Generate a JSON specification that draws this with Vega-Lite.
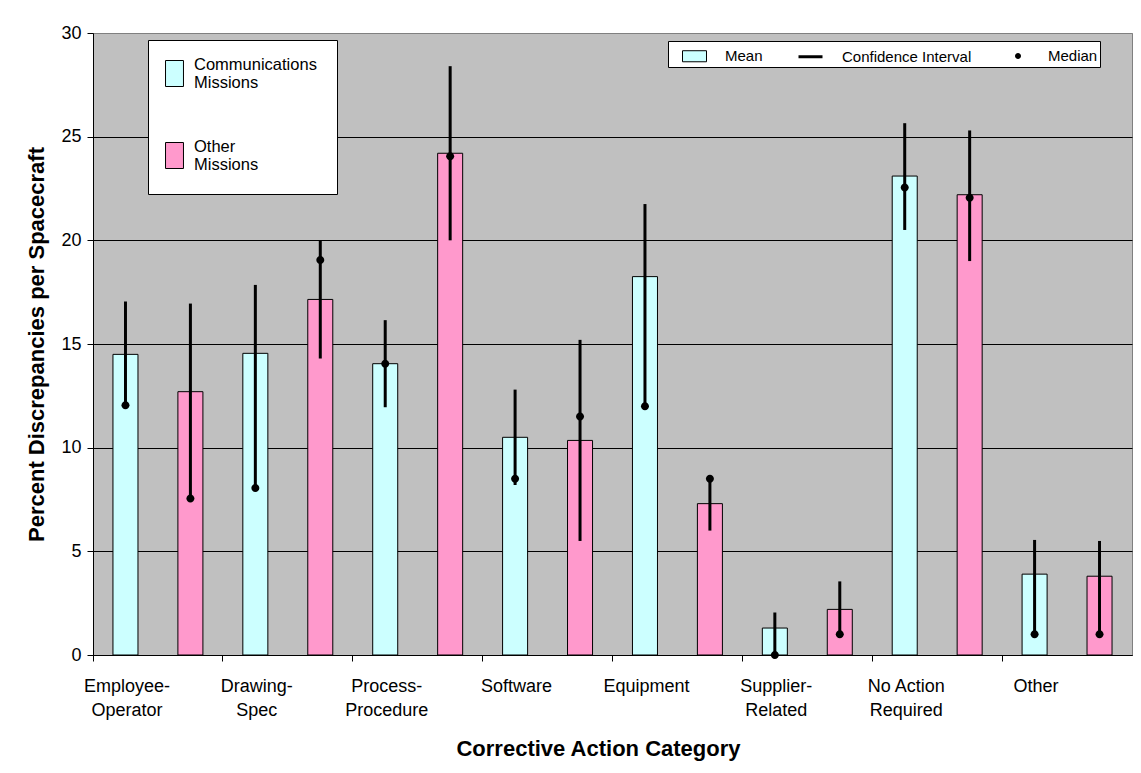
{
  "$schema": "https://vega.github.io/schema/vega-lite/v6.json",
  "width": 1039,
  "height": 622,
  "autosize": {"type": "none"},
  "padding": {"left": 93, "top": 33, "right": 9, "bottom": 118},
  "background": "white",
  "config": {
    "font": "Liberation Sans",
    "view": {"fill": "#C0C0C0", "stroke": "#808080", "strokeWidth": 1}
  },
  "data": {
    "values": [
      {"category": "Employee-Operator", "mission": "Communications Missions", "mean": 14.5, "ci_low": 12.0, "ci_high": 17.05, "median": 12.05},
      {"category": "Employee-Operator", "mission": "Other Missions", "mean": 12.7, "ci_low": 7.5, "ci_high": 16.95, "median": 7.55},
      {"category": "Drawing-Spec", "mission": "Communications Missions", "mean": 14.55, "ci_low": 8.0, "ci_high": 17.85, "median": 8.05},
      {"category": "Drawing-Spec", "mission": "Other Missions", "mean": 17.15, "ci_low": 14.3, "ci_high": 20.0, "median": 19.05},
      {"category": "Process-Procedure", "mission": "Communications Missions", "mean": 14.05, "ci_low": 11.95, "ci_high": 16.15, "median": 14.05},
      {"category": "Process-Procedure", "mission": "Other Missions", "mean": 24.2, "ci_low": 20.0, "ci_high": 28.4, "median": 24.05},
      {"category": "Software", "mission": "Communications Missions", "mean": 10.5, "ci_low": 8.2, "ci_high": 12.8, "median": 8.5},
      {"category": "Software", "mission": "Other Missions", "mean": 10.35, "ci_low": 5.5, "ci_high": 15.2, "median": 11.5},
      {"category": "Equipment", "mission": "Communications Missions", "mean": 18.25, "ci_low": 12.0, "ci_high": 21.75, "median": 12.0},
      {"category": "Equipment", "mission": "Other Missions", "mean": 7.3, "ci_low": 6.0, "ci_high": 8.5, "median": 8.5},
      {"category": "Supplier-Related", "mission": "Communications Missions", "mean": 1.3, "ci_low": 0.0, "ci_high": 2.05, "median": 0.0},
      {"category": "Supplier-Related", "mission": "Other Missions", "mean": 2.2, "ci_low": 1.0, "ci_high": 3.55, "median": 1.0},
      {"category": "No Action Required", "mission": "Communications Missions", "mean": 23.1, "ci_low": 20.5, "ci_high": 25.65, "median": 22.55},
      {"category": "No Action Required", "mission": "Other Missions", "mean": 22.2, "ci_low": 19.0, "ci_high": 25.3, "median": 22.05},
      {"category": "Other", "mission": "Communications Missions", "mean": 3.9, "ci_low": 1.0, "ci_high": 5.55, "median": 1.0},
      {"category": "Other", "mission": "Other Missions", "mean": 3.8, "ci_low": 1.0, "ci_high": 5.5, "median": 1.0}
    ]
  },
  "encoding": {
    "x": {
      "field": "category",
      "type": "nominal",
      "sort": ["Employee-Operator", "Drawing-Spec", "Process-Procedure", "Software", "Equipment", "Supplier-Related", "No Action Required", "Other"],
      "scale": {"paddingInner": 0, "paddingOuter": 0},
      "axis": {
        "title": "Corrective Action Category",
        "titleFontSize": 22,
        "titleFontWeight": "bold",
        "titleColor": "black",
        "titlePadding": 19,
        "titleX": 505,
        "titleAlign": "center",
        "bandPosition": 0,
        "labelAngle": 0,
        "labelAlign": "center",
        "labelBaseline": "top",
        "labelOffset": -31,
        "labelFontSize": 18,
        "labelColor": "black",
        "labelLineHeight": 24,
        "labelPadding": 16,
        "labelExpr": "datum.label == 'No Action Required' ? ['No Action', 'Required'] : indexof(datum.label, '-') > 0 ? [slice(datum.label, 0, indexof(datum.label, '-') + 1), slice(datum.label, indexof(datum.label, '-') + 1)] : datum.label",
        "domainColor": "black",
        "domainWidth": 1,
        "tickColor": "black",
        "tickSize": 6,
        "grid": false
      }
    },
    "xOffset": {
      "field": "mission",
      "type": "nominal",
      "sort": ["Communications Missions", "Other Missions"],
      "scale": {"paddingInner": 0.615, "paddingOuter": 0.3075}
    }
  },
  "layer": [
    {
      "mark": {"type": "bar", "stroke": "black", "strokeWidth": 1},
      "encoding": {
        "y": {
          "field": "mean",
          "type": "quantitative",
          "title": "Percent Discrepancies per Spacecraft",
          "scale": {"domain": [0, 30], "nice": false},
          "axis": {
            "values": [0, 5, 10, 15, 20, 25, 30],
            "titleFontSize": 22,
            "titleFontWeight": "bold",
            "titleColor": "black",
            "titlePadding": 12,
            "labelFontSize": 18,
            "labelColor": "black",
            "labelPadding": 6,
            "domainColor": "black",
            "tickColor": "black",
            "tickSize": 6,
            "grid": true,
            "gridColor": {"condition": {"test": "datum.value >= 30", "value": "#808080"}, "value": "black"},
            "gridWidth": 1
          }
        },
        "fill": {
          "field": "mission",
          "type": "nominal",
          "scale": {"domain": ["Communications Missions", "Other Missions"], "range": ["#CCFFFF", "#FF99CC"]},
          "legend": {
            "orient": "none",
            "legendX": 55,
            "legendY": 7,
            "direction": "vertical",
            "title": null,
            "fillColor": "white",
            "strokeColor": "black",
            "padding": 20,
            "symbolType": "M-0.69,-1H0.69V1H-0.69Z",
            "symbolSize": 676,
            "symbolOffset": -7,
            "symbolStrokeColor": "black",
            "symbolStrokeWidth": 1,
            "symbolOpacity": 1,
            "labelOffset": 6,
            "labelFontSize": 16.5,
            "labelColor": "black",
            "labelBaseline": "line-bottom",
            "labelLimit": 300,
            "rowPadding": 46,
            "labelExpr": "split(datum.label, ' ')"
          }
        }
      }
    },
    {
      "mark": {"type": "rule", "color": "black", "strokeWidth": 3},
      "encoding": {
        "y": {"field": "ci_low", "type": "quantitative", "title": "Percent Discrepancies per Spacecraft", "scale": {"domain": [0, 30], "nice": false}},
        "y2": {"field": "ci_high"}
      }
    },
    {
      "mark": {"type": "point", "filled": true, "stroke": "black", "size": 1024, "opacity": 1},
      "encoding": {
        "y": {"field": "median", "type": "quantitative", "title": "Percent Discrepancies per Spacecraft", "scale": {"domain": [0, 30], "nice": false}},
        "shape": {
          "datum": "Median",
          "type": "ordinal",
          "scale": {"domain": ["Mean", "Confidence Interval", "Median"], "range": ["M-1,-0.46H1V0.46H-1Z", "stroke", "M0.25,0A0.25,0.25,0,1,1,-0.25,0A0.25,0.25,0,1,1,0.25,0Z"]},
          "legend": {"orient": "none", "legendX": 575, "legendY": 8, "direction": "horizontal", "title": null, "fillColor": "white", "strokeColor": "black", "padding": 2, "symbolSize": 576, "symbolOffset": 12, "symbolOpacity": 1, "labelOffset": 18, "labelFontSize": 15, "labelColor": "black", "columnPadding": 22}
        },
        "color": {
          "datum": "Median",
          "type": "ordinal",
          "scale": {"domain": ["Mean", "Confidence Interval", "Median"], "range": ["#CCFFFF", "black", "black"]},
          "legend": {"orient": "none", "legendX": 575, "legendY": 8, "direction": "horizontal", "title": null, "fillColor": "white", "strokeColor": "black", "padding": 2, "symbolSize": 576, "symbolOffset": 12, "symbolOpacity": 1, "labelOffset": 18, "labelFontSize": 15, "labelColor": "black", "columnPadding": 22}
        },
        "strokeWidth": {
          "datum": "Median",
          "type": "ordinal",
          "scale": {"type": "ordinal", "domain": ["Mean", "Confidence Interval", "Median"], "range": [1, 3, 0]},
          "legend": {"orient": "none", "legendX": 575, "legendY": 8, "direction": "horizontal", "title": null, "fillColor": "white", "strokeColor": "black", "padding": 2, "symbolSize": 576, "symbolOffset": 12, "symbolOpacity": 1, "labelOffset": 18, "labelFontSize": 15, "labelColor": "black", "columnPadding": 22}
        }
      }
    }
  ]
}
